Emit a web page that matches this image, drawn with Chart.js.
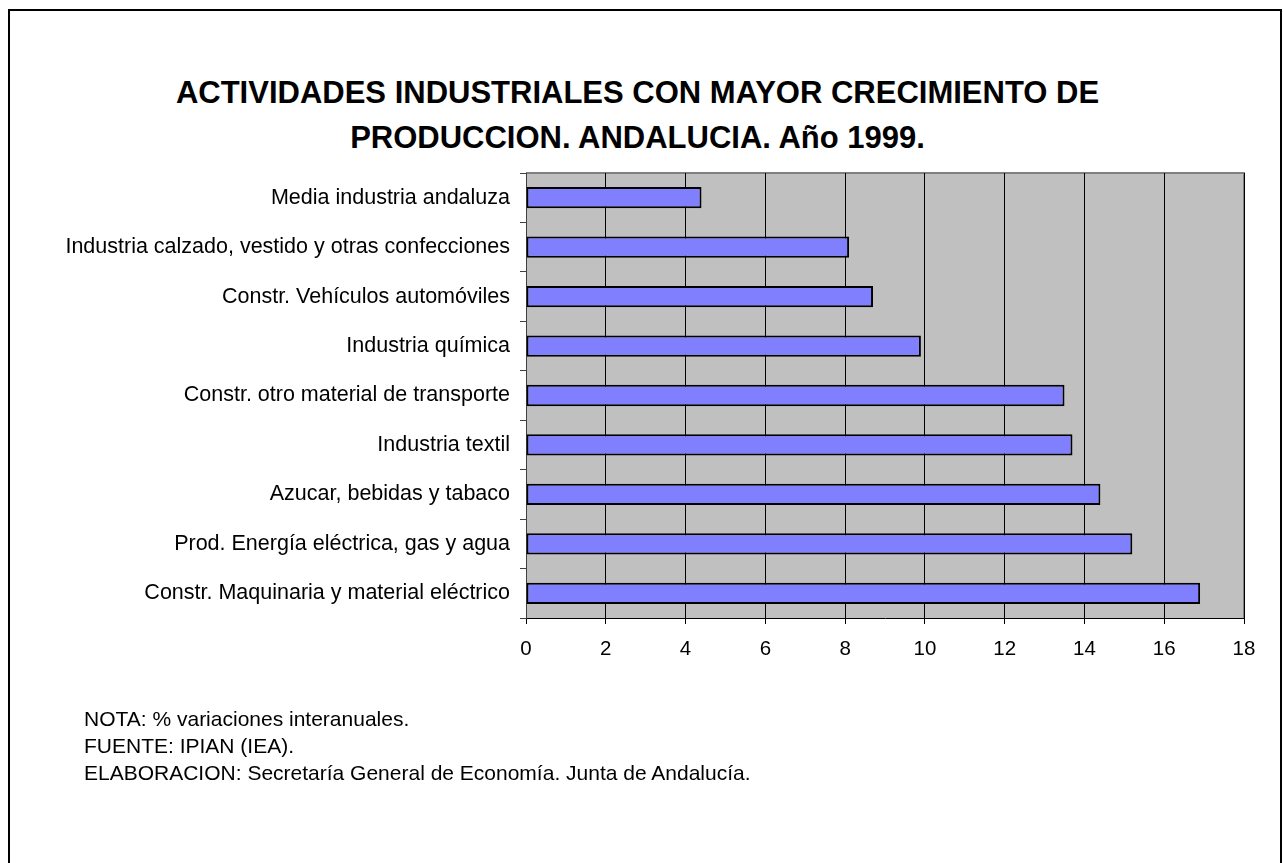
<!DOCTYPE html>
<html>
<head>
<meta charset="utf-8">
<script src="https://cdn.jsdelivr.net/npm/chart.js@4/dist/chart.umd.min.js"></script>
<style>
  body { margin:0; background:#fff; font-family:"Liberation Sans", Arial, sans-serif; }
  #frame { position:absolute; left:8px; top:9px; width:1270px; height:900px; border:2px solid #000; border-bottom:none; }
  #title { position:absolute; left:0; top:70px; width:1275px; text-align:center; font-weight:bold; font-size:31px; line-height:45px; color:#000; }
  #notes { position:absolute; left:84px; top:705px; font-size:21px; line-height:27px; color:#000; }
  canvas { position:absolute; left:0; top:0; }
</style>
</head>
<body>
<div id="frame"></div>
<div id="title">ACTIVIDADES INDUSTRIALES CON MAYOR CRECIMIENTO DE<br>PRODUCCION. ANDALUCIA. Año 1999.</div>
<canvas id="chart-id" width="1283" height="863"></canvas>
<div id="notes">
  NOTA: % variaciones interanuales.<br>
  FUENTE: IPIAN (IEA).<br>
  ELABORACION: Secretaría General de Economía. Junta de Andalucía.
</div>
<script>
var categories = [
  "Media industria andaluza",
  "Industria calzado, vestido y otras confecciones",
  "Constr. Vehículos automóviles",
  "Industria química",
  "Constr. otro material de transporte",
  "Industria textil",
  "Azucar, bebidas y tabaco",
  "Prod. Energía eléctrica, gas y agua",
  "Constr. Maquinaria y material eléctrico"
];
var crecimiento = [4.4, 8.1, 8.7, 9.9, 13.5, 13.7, 14.4, 15.2, 16.9];
var xMin = 0, xMax = 18, xStep = 2;

// gray plot area with gray top/right border
var plotBg = {
  id: 'plotBg',
  beforeDraw: function(chart) {
    var a = chart.chartArea, ctx = chart.ctx;
    ctx.save();
    ctx.fillStyle = '#C0C0C0';
    ctx.fillRect(a.left, a.top, a.right - a.left, a.bottom - a.top);
    ctx.strokeStyle = '#808080';
    ctx.lineWidth = 2;
    ctx.beginPath();
    ctx.moveTo(a.left, a.top);
    ctx.lineTo(a.right, a.top);
    ctx.lineTo(a.right, a.bottom);
    ctx.stroke();
    ctx.restore();
  }
};

var ctx = document.getElementById("chart-id").getContext("2d");
var chart = new Chart(ctx, {
  type: 'bar',
  data: {
    labels: categories,
    datasets: [{
      data: crecimiento,
      backgroundColor: '#8080FF',
      borderColor: '#000000',
      borderWidth: 2,
      borderSkipped: false,
      categoryPercentage: 1,
      barPercentage: 0.43
    }]
  },
  options: {
    indexAxis: 'y',
    responsive: false,
    animation: false,
    layout: { padding: { top: 173, right: 39, bottom: 195, left: 0 } },
    plugins: { legend: { display: false }, tooltip: { enabled: false } },
    scales: {
      x: {
        min: xMin, max: xMax,
        ticks: { stepSize: xStep, color: '#000', padding: 13, font: { family: 'Liberation Sans', size: 20.5 } },
        grid: { color: '#000', lineWidth: 1, tickLength: 6 },
        border: { color: '#000', width: 1 },
        afterFit: function(s) { s.height = 50; }
      },
      y: {
        ticks: { color: '#000', padding: 10, autoSkip: false, font: { family: 'Liberation Sans', size: 21.5 } },
        grid: { drawOnChartArea: false, color: '#404040', tickLength: 6, offset: true },
        border: { color: '#404040', width: 1 },
        afterFit: function(s) { s.width = 526; }
      }
    }
  },
  plugins: [plotBg]
});
</script>
</body>
</html>
